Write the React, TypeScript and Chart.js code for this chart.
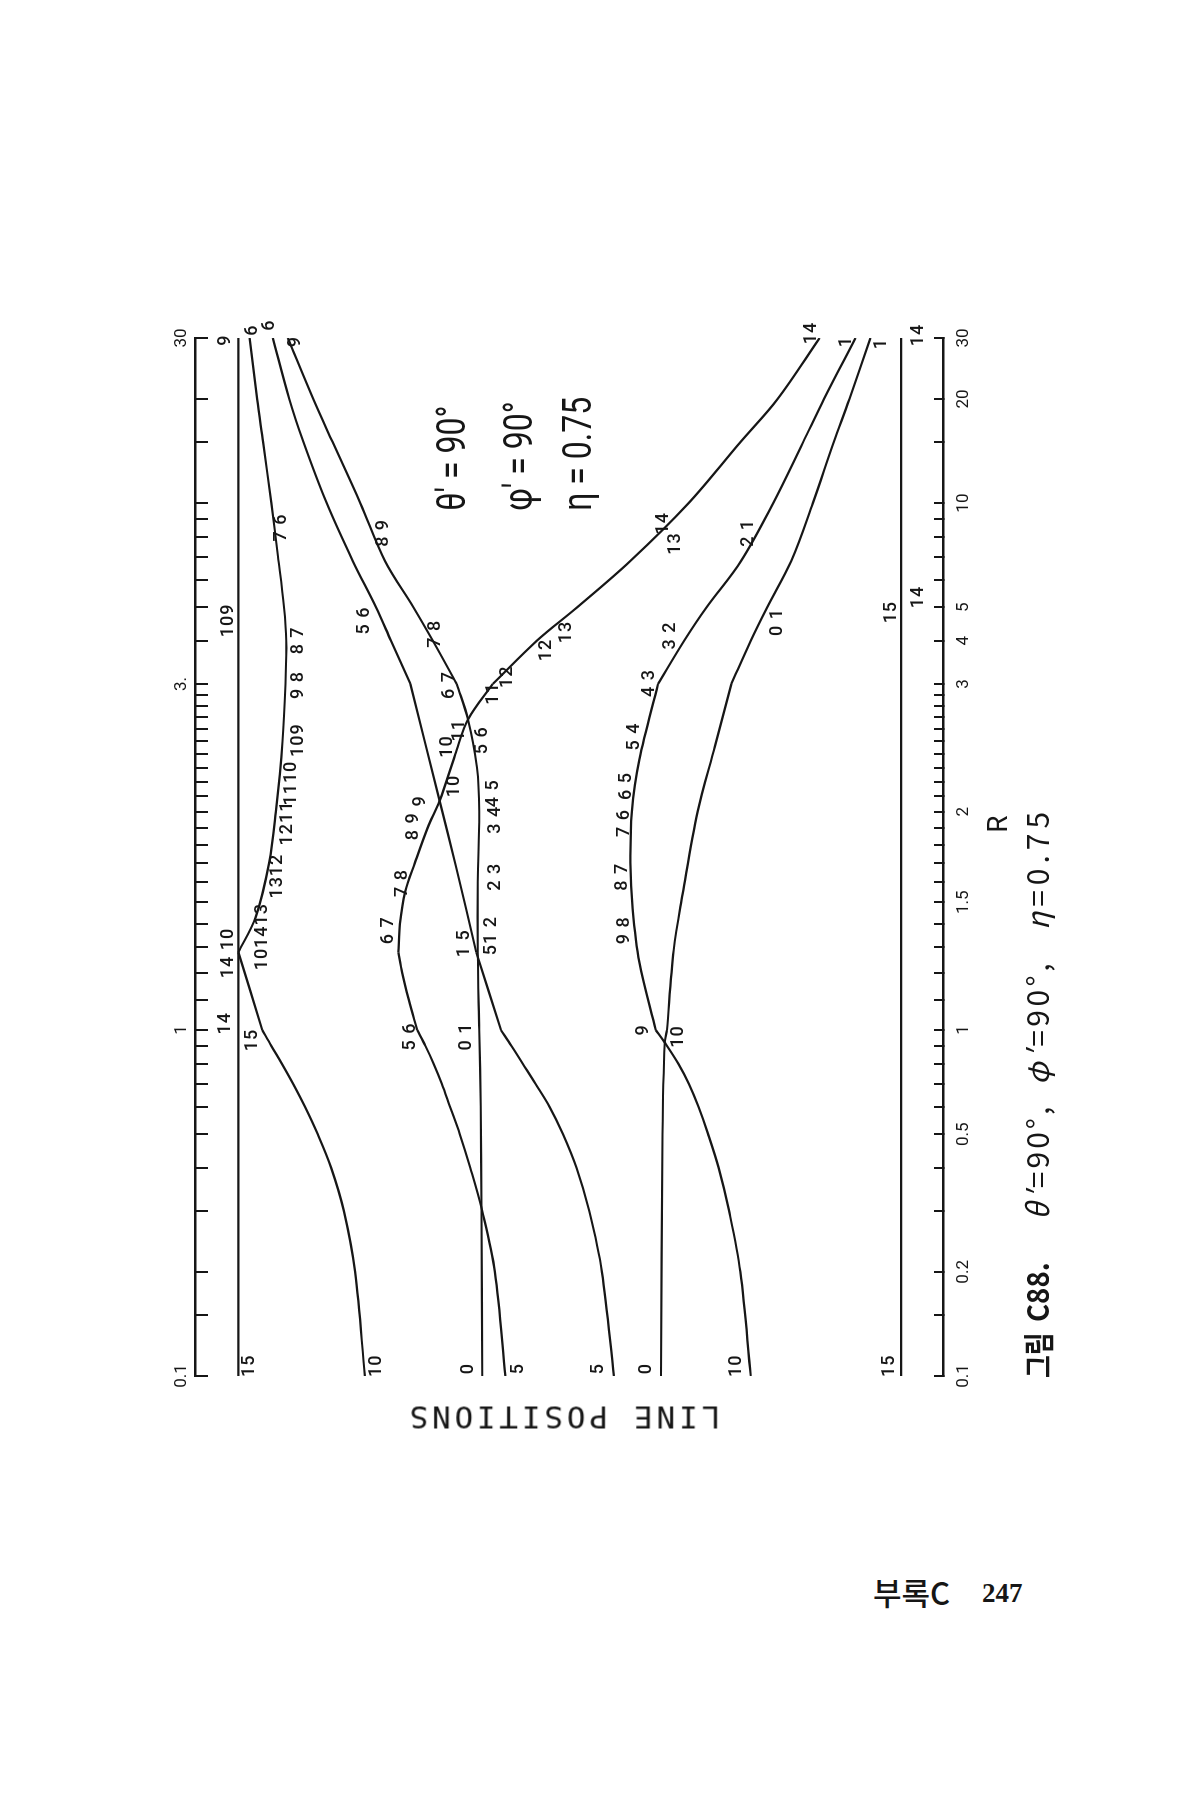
import React, { useEffect, useRef } from "react";
import { Chart, registerables } from "chart.js";

Chart.register(...registerables);

const INK = "#161616";

// ---- R axis: three equal panels, each logarithmic (0.1–1, 1–3, 3–30) ----
function rToU(r: number): number {
  if (r <= 1) return Math.log10(r) + 1;
  if (r <= 3) return 1 + Math.log(r) / Math.log(3);
  return 2 + Math.log10(r / 3);
}

const R_TICKS = [
  0.1, 0.15, 0.2, 0.3, 0.4, 0.5, 0.6, 0.7, 0.8, 0.9,
  1, 1.1, 1.2, 1.3, 1.4, 1.5, 1.6, 1.7, 1.8, 1.9,
  2, 2.1, 2.2, 2.3, 2.4, 2.5, 2.6, 2.7, 2.8, 2.9,
  3, 4, 5, 6, 7, 8, 9, 10, 15, 20, 30,
];
const BOTTOM_LABEL_R = [0.1, 0.2, 0.5, 1, 1.5, 2, 3, 4, 5, 10, 20, 30];
const BOTTOM_LABEL_TEXT = ["0.1", "0.2", "0.5", "1", "1.5", "2", "3", "4", "5", "10", "20", "30"];
const TOP_LABEL_R = [0.1, 1, 3, 30];
const TOP_LABEL_TEXT = ["0.1", "1", "3.", "30"];

// ---- line positions, [R, position] (0 = bottom axis, 100 = top axis) ----
const LINE_TOP: [number, number][] = [[0.1, 94.2], [30, 94.2]];
const LINE_BOTTOM: [number, number][] = [[0.1, 5.6], [30, 5.6]];
const CURVE_10_6: [number, number][] = [
  [0.1, 77.3], [0.2, 78.6], [0.3, 80.1], [0.4, 81.8], [0.5, 83.6], [0.6, 85.3],
  [0.7, 86.9], [0.8, 88.4], [0.9, 89.8], [1, 91.0], [1.28, 94.2],
  [1.43, 91.9], [1.7, 90.1], [2, 89.2], [2.5, 88.3], [3, 87.9], [4, 87.8],
  [5, 88.1], [7, 88.9], [10, 89.8], [15, 90.9], [20, 91.7], [30, 92.7],
];
const CURVE_0_9: [number, number][] = [
  [0.1, 61.6], [0.3, 61.7], [0.6, 61.8], [1, 62.0], [1.28, 62.2], [1.6, 62.2],
  [2, 62.0], [2.3, 62.3], [2.68, 63.5], [3, 65.0], [4, 68.2], [5, 70.8],
  [6.8, 74.6], [10, 77.9], [15, 81.6], [20, 84.2], [30, 87.6],
];
const CURVE_5_14: [number, number][] = [
  [0.1, 58.5], [0.2, 59.9], [0.3, 61.6], [0.4, 63.2], [0.5, 64.6], [0.6, 65.9],
  [0.7, 67.0], [0.8, 68.1], [0.9, 69.2], [1, 70.3], [1.1, 71.4], [1.2, 72.3],
  [1.28, 72.8], [1.4, 72.6], [1.55, 71.9], [1.7, 70.6], [1.9, 68.9], [2.07, 67.3],
  [2.4, 65.2], [2.68, 63.5], [3, 60.2], [4, 54.3], [5, 48.9], [6.8, 41.8],
  [10, 34.0], [15, 27.1], [20, 22.1], [30, 16.5],
];
const CURVE_5_6: [number, number][] = [
  [0.1, 44.0], [0.2, 45.6], [0.3, 47.3], [0.4, 49.0], [0.5, 50.8], [0.6, 52.6],
  [0.7, 54.5], [0.8, 56.2], [0.9, 57.7], [1, 59.1], [1.28, 62.4], [1.68, 65.1],
  [2.07, 67.3], [3, 71.2], [4, 73.8], [5, 75.8], [6.8, 78.9], [10, 82.4],
  [15, 85.5], [20, 87.4], [30, 89.6],
];
const CURVE_0_1: [number, number][] = [
  [0.1, 37.7], [0.5, 37.5], [0.92, 37.2], [1, 36.9], [1.29, 36.0], [1.54, 34.8],
  [2, 32.8], [2.46, 30.5], [3, 28.3], [4, 25.7], [5, 23.5], [6.8, 20.3],
  [10, 17.4], [15, 14.6], [20, 12.5], [30, 9.7],
];
const CURVE_10_1: [number, number][] = [
  [0.1, 25.7], [0.2, 27.1], [0.3, 28.6], [0.4, 30.0], [0.5, 31.4], [0.6, 32.7],
  [0.7, 34.0], [0.8, 35.4], [0.92, 37.2], [1, 38.4], [1.24, 40.6], [1.47, 41.5],
  [1.7, 41.8], [2, 41.6], [2.36, 40.6], [3, 38.1], [4, 34.6], [5, 31.6],
  [6.8, 27.0], [10, 22.7], [15, 18.7], [20, 15.9], [30, 11.7],
];

const CURVES: { points: [number, number][]; kinks: number[] }[] = [
  { points: LINE_TOP, kinks: [] },
  { points: LINE_BOTTOM, kinks: [] },
  { points: CURVE_10_6, kinks: [1, 1.28] },
  { points: CURVE_0_9, kinks: [3] },
  { points: CURVE_5_14, kinks: [1, 1.28, 3] },
  { points: CURVE_5_6, kinks: [1, 1.28, 3] },
  { points: CURVE_0_1, kinks: [1, 3] },
  { points: CURVE_10_1, kinks: [1, 3] },
];

// ---- level numbers written along the curves ----
const CURVE_LABEL_TEXT = [
  "15", "10", "0", "5", "5", "0", "10", "15",
  "9", "6", "6", "9", "14", "1", "1", "14",
  "7 6", "8 9", "14", "13", "2 1",
  "109", "8 7", "5 6", "7 8", "12", "13", "3 2", "0 1", "15", "14",
  "9 8", "6 7", "11", "12", "4 3",
  "109", "10", "11", "5 6", "5 4",
  "1110", "1211", "10", "9", "8 9", "4 5", "3 4", "6 5", "7 6",
  "1312", "101413", "14 10", "14", "15", "7 8", "6 7", "5 6", "2 3",
  "1 5", "51 2", "0 1", "9 8", "8 7", "9", "10",
];
const CURVE_LABEL_R = [
  0.107, 0.107, 0.105, 0.105, 0.105, 0.105, 0.107, 0.107,
  29.6, 31.6, 32.7, 29.3, 31.0, 29.3, 28.9, 30.6,
  8.5, 8.2, 8.75, 7.64, 8.2,
  4.58, 4.01, 4.58, 4.19, 3.76, 4.24, 4.14, 4.53, 4.84, 5.35,
  2.99, 2.99, 2.91, 3.15, 3.02,
  2.51, 2.46, 2.59, 2.51, 2.54,
  2.19, 1.93, 2.17, 2.07, 1.91, 2.12, 1.95, 2.17, 1.93,
  1.63, 1.345, 1.277, 1.022, 0.936, 1.595, 1.373, 0.957, 1.627,
  1.317, 1.349, 0.957, 1.373, 1.627, 1.0, 0.957,
];
const CURVE_LABEL_Y = [
  92.7, 75.7, 63.4, 56.8, 46.1, 39.7, 27.6, 7.2,
  95.9, 92.3, 90.1, 86.5, 17.6, 12.9, 8.2, 3.3,
  88.4, 74.8, 37.4, 35.8, 26.0,
  95.5, 86.1, 77.4, 67.9, 53.0, 50.4, 36.4, 22.1, 6.9, 3.3,
  86.1, 66.0, 60.1, 58.2, 39.3,
  86.1, 66.3, 64.7, 61.5, 41.3,
  87.1, 87.7, 65.3, 69.9, 70.8, 60.1, 59.8, 42.3, 42.6,
  89.0, 91.0, 95.5, 95.9, 92.3, 72.2, 74.1, 71.2, 59.8,
  64.0, 60.4, 63.7, 42.6, 42.9, 40.0, 35.4,
];

const PARAM_TEXT = ["θ' = 90°", "φ' = 90°", "η = 0.75"];
const PARAM_R = 9.5;
const PARAM_Y = [65.2, 56.3, 48.4];

function labelFor(r: number, rs: number[], texts: string[]): string {
  const i = rs.findIndex((v) => Math.abs(v - r) < 1e-9);
  return i >= 0 ? texts[i] : "";
}

function splitAtKinks(points: [number, number][], kinks: number[]) {
  const out: { x: number; y: number }[][] = [];
  let cur: { x: number; y: number }[] = [];
  points.forEach(([r, v], i) => {
    const p = { x: rToU(r), y: v };
    cur.push(p);
    if (i > 0 && i < points.length - 1 && kinks.includes(r)) {
      out.push(cur);
      cur = [p];
    }
  });
  out.push(cur);
  return out;
}

const annotationPlugin = {
  id: "curveAnnotations",
  afterDatasetsDraw(chart: any) {
    const { ctx } = chart;
    const xs = chart.scales.x;
    const ys = chart.scales.y;
    ctx.save();
    ctx.fillStyle = INK;
    ctx.textAlign = "center";
    ctx.textBaseline = "middle";
    ctx.font = "500 18px Roboto";
    ctx.letterSpacing = "1px";
    CURVE_LABEL_TEXT.forEach((t, i) => {
      ctx.fillText(t, xs.getPixelForValue(rToU(CURVE_LABEL_R[i])), ys.getPixelForValue(CURVE_LABEL_Y[i]));
    });
    ctx.letterSpacing = "0px";
    ctx.font = "40px Roboto";
    ctx.textAlign = "left";
    PARAM_TEXT.forEach((t, i) => {
      ctx.save();
      ctx.translate(xs.getPixelForValue(rToU(PARAM_R)), ys.getPixelForValue(PARAM_Y[i]));
      ctx.scale(0.8, 1);
      ctx.fillText(t, 0, 0);
      ctx.restore();
    });
    ctx.restore();
  },
};

export default function App() {
  const ref = useRef<HTMLCanvasElement>(null);

  useEffect(() => {
    const canvas = ref.current;
    if (!canvas) return;
    const datasets = CURVES.flatMap((c) =>
      splitAtKinks(c.points, c.kinks).map((seg) => ({
        data: seg,
        borderColor: INK,
        borderWidth: 2.2,
        pointRadius: 0,
        fill: false,
        tension: 0.35,
        xAxisID: "x",
        yAxisID: "y",
      }))
    );
    const tickFont = { family: "Roboto", size: 17 };
    const chart = new Chart(canvas, {
      type: "line",
      data: { datasets } as any,
      options: {
        responsive: false,
        animation: false,
        devicePixelRatio: 1,
        events: [],
        layout: { padding: { left: 114, right: 48, top: 0, bottom: 0 } },
        plugins: { legend: { display: false }, tooltip: { enabled: false }, title: { display: false } },
        scales: {
          x: {
            type: "linear",
            position: "bottom",
            min: 0,
            max: 3,
            afterBuildTicks: (s: any) => {
              s.ticks = R_TICKS.map((r) => ({ value: rToU(r) }));
            },
            afterFit: (s: any) => {
              s.height = 117;
            },
            grid: { display: true, drawOnChartArea: false, drawTicks: true, tickLength: -9, color: INK, lineWidth: 2 },
            border: { display: true, color: INK, width: 2.6 },
            ticks: {
              autoSkip: false,
              maxRotation: 0,
              minRotation: 0,
              padding: 20,
              color: INK,
              font: tickFont,
              callback: (_v: any, i: number) => labelFor(R_TICKS[i], BOTTOM_LABEL_R, BOTTOM_LABEL_TEXT),
            },
          },
          x2: {
            type: "linear",
            position: "top",
            min: 0,
            max: 3,
            afterBuildTicks: (s: any) => {
              s.ticks = R_TICKS.map((r) => ({ value: rToU(r) }));
            },
            afterFit: (s: any) => {
              s.height = 65;
            },
            grid: { display: true, drawOnChartArea: false, drawTicks: true, tickLength: -13, color: INK, lineWidth: 2 },
            border: { display: true, color: INK, width: 2.6 },
            ticks: {
              autoSkip: false,
              maxRotation: 0,
              minRotation: 0,
              padding: 16,
              color: INK,
              font: tickFont,
              callback: (_v: any, i: number) => labelFor(R_TICKS[i], TOP_LABEL_R, TOP_LABEL_TEXT),
            },
          },
          y: { type: "linear", display: false, min: 0, max: 100 },
        },
      } as any,
      plugins: [annotationPlugin],
    });
    return () => chart.destroy();
  }, []);

  const capFont = '"Noto Sans CJK KR", "Noto Sans", sans-serif';
  const seg = (left: number, sx: number, extra: React.CSSProperties = {}) => ({
    position: "absolute" as const,
    left,
    top: 906,
    transform: `translateY(-50%) scaleX(${sx})`,
    transformOrigin: "0 50%",
    fontFamily: capFont,
    fontSize: 30,
    lineHeight: 1,
    whiteSpace: "nowrap" as const,
    color: INK,
    ...extra,
  });

  return (
    <div style={{ position: "absolute", left: 0, top: 0, width: 1200, height: 1800, overflow: "hidden", background: "#fff" }}>
      <div
        style={{
          position: "absolute",
          left: 130,
          top: 1490,
          width: 1200,
          height: 930,
          transformOrigin: "0 0",
          transform: "rotate(-90deg)",
        }}
      >
        <canvas ref={ref} width={1200} height={930} style={{ display: "block", width: 1200, height: 930 }} />
        <div style={{ position: "absolute", left: 666, top: 868, transform: "translate(-50%,-50%)", fontFamily: "Roboto", fontSize: 28, lineHeight: 1, color: INK }}>R</div>
        <div
          style={{
            position: "absolute",
            left: 72.5,
            top: 432.5,
            transform: "translate(-50%,-50%) rotate(-90deg)",
            fontFamily: '"DejaVu Sans Mono", monospace',
            fontSize: 31,
            letterSpacing: "3.8px",
            whiteSpace: "nowrap",
            lineHeight: 1,
            color: INK,
          }}
        >
          LINE POSITIONS
        </div>
        <div style={seg(112, 0.8, { fontWeight: 700, fontSize: 31 })}>그림</div>
        <div style={seg(168, 0.92, { fontWeight: 700 })}>C88.</div>
        <div style={seg(270, 1, { letterSpacing: "3px" })}><i>θ′</i>=90°,</div>
        <div style={seg(405, 1, { letterSpacing: "3.5px" })}><i>φ′</i>=90°,</div>
        <div style={seg(560, 1, { letterSpacing: "5px" })}><i>η</i>=0.75</div>
      </div>
      <div style={{ position: "absolute", left: 873, top: 1576, fontFamily: capFont, fontSize: 31, fontWeight: 500, lineHeight: 1, color: INK }}>부록C</div>
      <div style={{ position: "absolute", left: 982, top: 1580, fontFamily: '"Liberation Serif", serif', fontSize: 27, fontWeight: 700, lineHeight: 1, color: INK }}>247</div>
    </div>
  );
}
